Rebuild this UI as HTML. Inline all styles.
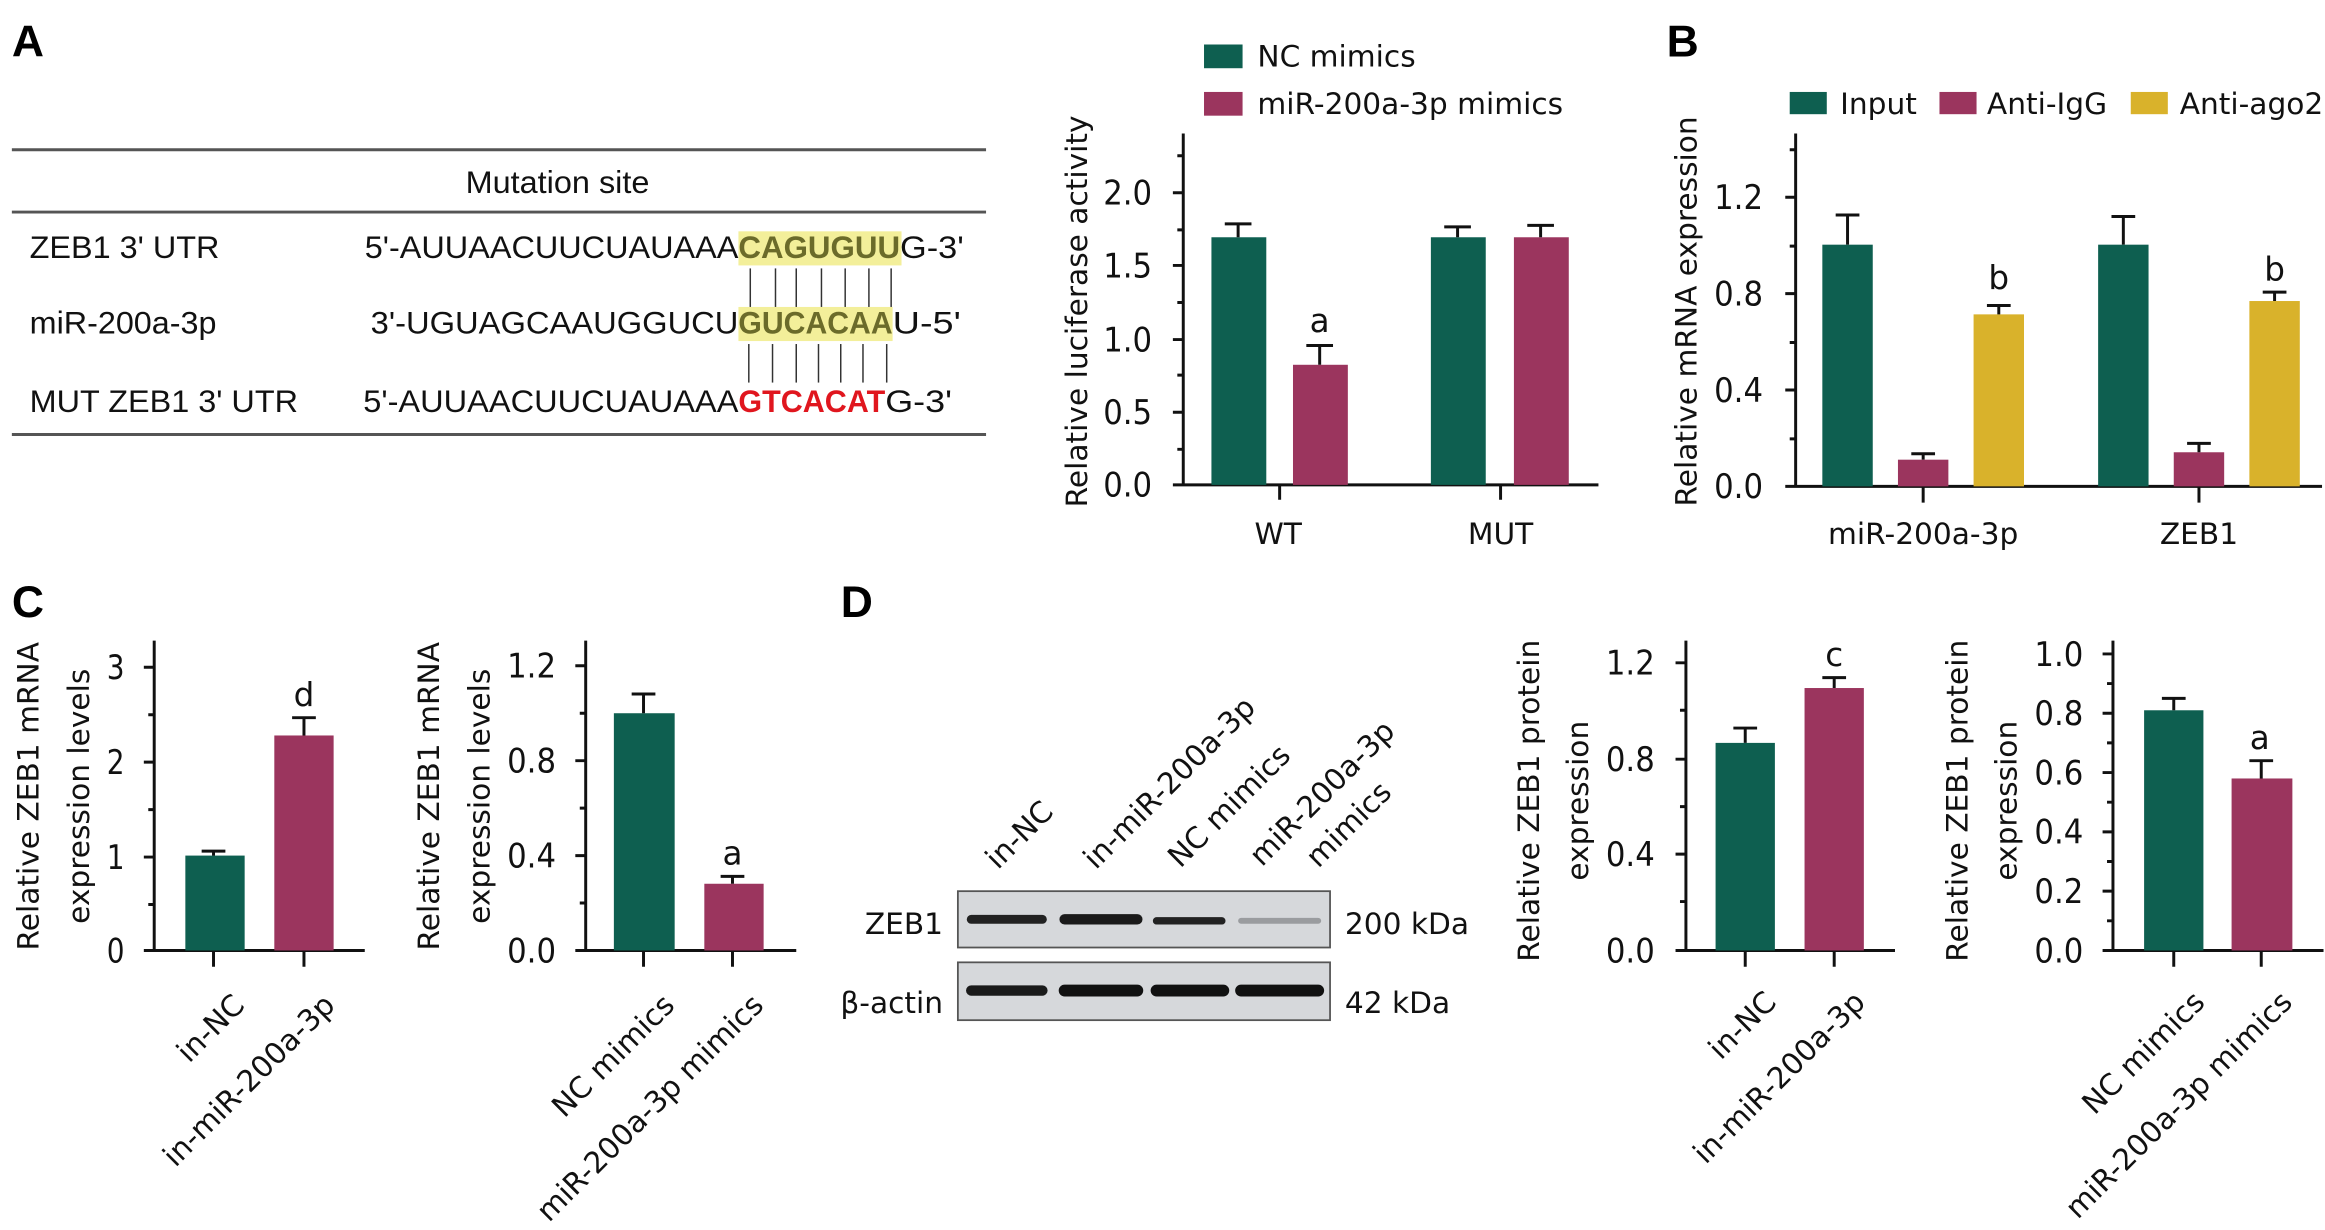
<!DOCTYPE html>
<html><head><meta charset="utf-8"><style>html,body{margin:0;padding:0;background:#fff}svg{display:block}</style></head>
<body>
<svg width="2325" height="1230" viewBox="0 0 1568 829.5" xmlns="http://www.w3.org/2000/svg" font-family="'DejaVu Sans', sans-serif">
<rect width="1568" height="830" fill="#fff"/>
<g font-family="'Liberation Sans',sans-serif" font-weight="bold" font-size="30" fill="#000">
<text x="8" y="38">A</text><text x="1124" y="38">B</text><text x="8" y="416">C</text><text x="567" y="416">D</text>
</g>
<!-- Table A -->
<g stroke="#555" stroke-width="2"><line x1="8" y1="101" x2="665" y2="101"/><line x1="8" y1="143" x2="665" y2="143"/><line x1="8" y1="293" x2="665" y2="293"/></g>
<rect x="498" y="156" width="110" height="23" fill="#f3ef9a"/>
<rect x="498" y="207" width="104" height="23" fill="#f3ef9a"/>
<g font-family="'Liberation Sans',sans-serif" font-size="21" fill="#111">
<text x="376" y="130" text-anchor="middle" textLength="124" lengthAdjust="spacingAndGlyphs">Mutation site</text>
<text x="20" y="174" textLength="128" lengthAdjust="spacingAndGlyphs">ZEB1 3' UTR</text>
<text x="20" y="225" textLength="126" lengthAdjust="spacingAndGlyphs">miR-200a-3p</text>
<text x="20" y="278" textLength="181" lengthAdjust="spacingAndGlyphs">MUT ZEB1 3' UTR</text>
<text x="246" y="174" textLength="252" lengthAdjust="spacingAndGlyphs">5'-AUUAACUUCUAUAAA</text>
<text x="498" y="174" textLength="109" lengthAdjust="spacingAndGlyphs" font-weight="bold" fill="#6b6b2a">CAGUGUU</text>
<text x="607" y="174" textLength="43" lengthAdjust="spacingAndGlyphs">G-3'</text>
<text x="250" y="225" textLength="248" lengthAdjust="spacingAndGlyphs">3'-UGUAGCAAUGGUCU</text>
<text x="498" y="225" textLength="104" lengthAdjust="spacingAndGlyphs" font-weight="bold" fill="#6b6b2a">GUCACAA</text>
<text x="602" y="225" textLength="46" lengthAdjust="spacingAndGlyphs">U-5'</text>
<text x="245" y="278" textLength="253" lengthAdjust="spacingAndGlyphs">5'-AUUAACUUCUAUAAA</text>
<text x="498" y="278" textLength="99" lengthAdjust="spacingAndGlyphs" font-weight="bold" fill="#e0161e">GTCACAT</text>
<text x="597" y="278" textLength="45" lengthAdjust="spacingAndGlyphs">G-3'</text>
</g>
<g stroke="#333" stroke-width="1">
<line x1="506" y1="181" x2="506" y2="207"/><line x1="523" y1="181" x2="523" y2="207"/><line x1="537" y1="181" x2="537" y2="207"/><line x1="554" y1="181" x2="554" y2="207"/><line x1="570" y1="181" x2="570" y2="207"/><line x1="586" y1="181" x2="586" y2="207"/><line x1="601" y1="181" x2="601" y2="207"/>
<line x1="505" y1="232" x2="505" y2="258"/><line x1="521" y1="232" x2="521" y2="258"/><line x1="537" y1="232" x2="537" y2="258"/><line x1="552" y1="232" x2="552" y2="258"/><line x1="567" y1="232" x2="567" y2="258"/><line x1="582" y1="232" x2="582" y2="258"/><line x1="598" y1="232" x2="598" y2="258"/>
</g>

<g font-size="20" fill="#111">
<!-- Chart A -->
<rect x="812" y="30" width="26" height="16" fill="#0e5f50"/><text x="848" y="45">NC mimics</text>
<rect x="812" y="62" width="26" height="16" fill="#9b355e"/><text x="848" y="77">miR-200a-3p mimics</text>
<g stroke="#111" stroke-width="2" fill="none">
<path d="M798 90V327H1078M791 327H798"/>
<path d="M791 130H798M791 179H798M791 229H798M791 278H798M863 327V337M1012 327V337"/>
<path d="M794 105H798M794 155H798M794 204H798M794 253H798M794 303H798"/>
</g>
<g text-anchor="end" font-size="23"><text x="777" y="138" textLength="33" lengthAdjust="spacingAndGlyphs">2.0</text><text x="777" y="187" textLength="33" lengthAdjust="spacingAndGlyphs">1.5</text><text x="777" y="237" textLength="33" lengthAdjust="spacingAndGlyphs">1.0</text><text x="777" y="286" textLength="33" lengthAdjust="spacingAndGlyphs">0.5</text><text x="777" y="335" textLength="33" lengthAdjust="spacingAndGlyphs">0.0</text></g>
<text transform="translate(733,210) rotate(-90)" text-anchor="middle">Relative luciferase activity</text>
<rect x="817" y="160" width="37" height="167" fill="#0e5f50"/><rect x="872" y="246" width="37" height="81" fill="#9b355e"/>
<rect x="965" y="160" width="37" height="167" fill="#0e5f50"/><rect x="1021" y="160" width="37" height="167" fill="#9b355e"/>
<g stroke-width="2" fill="none" stroke="#111">
<path d="M835 160V151M826 151H844"/><path d="M890 246V233M881 233H899"/>
<path d="M983 160V153M974 153H992"/><path d="M1039 160V152M1030 152H1048"/>
</g>
<text x="890" y="224" text-anchor="middle" font-size="22">a</text>
<text x="862" y="367" text-anchor="middle">WT</text><text x="1012" y="367" text-anchor="middle">MUT</text>

<!-- Chart B -->
<rect x="1207" y="62" width="25" height="15" fill="#0e5f50"/><text x="1241" y="77">Input</text>
<rect x="1308" y="62" width="25" height="15" fill="#9b355e"/><text x="1340" y="77">Anti-IgG</text>
<rect x="1437" y="62" width="25" height="15" fill="#d9b22b"/><text x="1470" y="77">Anti-ago2</text>
<g stroke="#111" stroke-width="2" fill="none">
<path d="M1211 90V328H1566M1204 328H1211"/>
<path d="M1204 133H1211M1204 198H1211M1204 263H1211M1297 328V339M1483 328V339"/>
<path d="M1207 101H1211M1207 166H1211M1207 231H1211M1207 296H1211"/>
</g>
<g text-anchor="end" font-size="23"><text x="1189" y="141" textLength="33" lengthAdjust="spacingAndGlyphs">1.2</text><text x="1189" y="206" textLength="33" lengthAdjust="spacingAndGlyphs">0.8</text><text x="1189" y="271" textLength="33" lengthAdjust="spacingAndGlyphs">0.4</text><text x="1189" y="336" textLength="33" lengthAdjust="spacingAndGlyphs">0.0</text></g>
<text transform="translate(1144,210) rotate(-90)" text-anchor="middle">Relative mRNA expression</text>
<rect x="1229" y="165" width="34" height="163" fill="#0e5f50"/><rect x="1280" y="310" width="34" height="18" fill="#9b355e"/><rect x="1331" y="212" width="34" height="116" fill="#d9b22b"/>
<rect x="1415" y="165" width="34" height="163" fill="#0e5f50"/><rect x="1466" y="305" width="34" height="23" fill="#9b355e"/><rect x="1517" y="203" width="34" height="125" fill="#d9b22b"/>
<g stroke-width="2" fill="none" stroke="#111">
<path d="M1246 165V145M1238 145H1254"/><path d="M1297 310V306M1289 306H1305"/><path d="M1348 212V206M1340 206H1356"/>
<path d="M1432 165V146M1424 146H1440"/><path d="M1483 305V299M1475 299H1491"/><path d="M1534 203V197M1526 197H1542"/>
</g>
<text x="1348" y="195" text-anchor="middle" font-size="22">b</text><text x="1534" y="189" text-anchor="middle" font-size="22">b</text>
<text x="1297" y="367" text-anchor="middle">miR-200a-3p</text><text x="1483" y="367" text-anchor="middle">ZEB1</text>

<!-- Chart C1 -->
<g stroke="#111" stroke-width="2" fill="none">
<path d="M104 432V641H246M97 641H104"/><path d="M97 450H104M97 514H104M97 578H104M144 641V652M205 641V652"/>
<path d="M100 482H104M100 546H104M100 610H104"/>
</g>
<g text-anchor="end" font-size="23"><text x="84" y="458" textLength="12" lengthAdjust="spacingAndGlyphs">3</text><text x="84" y="522" textLength="12" lengthAdjust="spacingAndGlyphs">2</text><text x="84" y="586" textLength="12" lengthAdjust="spacingAndGlyphs">1</text><text x="84" y="649" textLength="12" lengthAdjust="spacingAndGlyphs">0</text></g>
<text transform="translate(26,537) rotate(-90)" text-anchor="middle">Relative ZEB1 mRNA</text>
<text transform="translate(60,537) rotate(-90)" text-anchor="middle">expression levels</text>
<rect x="125" y="577" width="40" height="64" fill="#0e5f50"/><rect x="185" y="496" width="40" height="145" fill="#9b355e"/>
<g stroke-width="2" fill="none" stroke="#111"><path d="M144 577V574M136 574H152"/><path d="M205 496V484M197 484H213"/></g>
<text x="205" y="476" text-anchor="middle" font-size="22">d</text>
<text transform="translate(166,679) rotate(-45)" text-anchor="end">in-NC</text>
<text transform="translate(227,679) rotate(-45)" text-anchor="end">in-miR-200a-3p</text>

<!-- Chart C2 -->
<g stroke="#111" stroke-width="2" fill="none">
<path d="M395 432V641H537M388 641H395"/><path d="M388 449H395M388 513H395M388 577H395M434 641V652M494 641V652"/>
<path d="M391 481H395M391 545H395M391 609H395"/>
</g>
<g text-anchor="end" font-size="23"><text x="375" y="457" textLength="33" lengthAdjust="spacingAndGlyphs">1.2</text><text x="375" y="521" textLength="33" lengthAdjust="spacingAndGlyphs">0.8</text><text x="375" y="585" textLength="33" lengthAdjust="spacingAndGlyphs">0.4</text><text x="375" y="649" textLength="33" lengthAdjust="spacingAndGlyphs">0.0</text></g>
<text transform="translate(296,537) rotate(-90)" text-anchor="middle">Relative ZEB1 mRNA</text>
<text transform="translate(330,537) rotate(-90)" text-anchor="middle">expression levels</text>
<rect x="414" y="481" width="41" height="160" fill="#0e5f50"/><rect x="475" y="596" width="40" height="45" fill="#9b355e"/>
<g stroke-width="2" fill="none" stroke="#111"><path d="M434 481V468M426 468H442"/><path d="M494 596V591M486 591H502"/></g>
<text x="494" y="583" text-anchor="middle" font-size="22">a</text>
<text transform="translate(456,679) rotate(-45)" text-anchor="end">NC mimics</text>
<text transform="translate(516,679) rotate(-45)" text-anchor="end">miR-200a-3p mimics</text>

<!-- Blot -->
<rect x="646" y="601" width="251" height="38" fill="#d6d8db" stroke="#555" stroke-width="1.2"/>
<rect x="646" y="649" width="251" height="39" fill="#d6d8db" stroke="#555" stroke-width="1.2"/>
<g stroke-linecap="round">
<line x1="655" y1="620" x2="703" y2="620" stroke="#222" stroke-width="6"/>
<line x1="718" y1="620" x2="767" y2="620" stroke="#1a1a1a" stroke-width="7"/>
<line x1="780" y1="621" x2="824" y2="621" stroke="#222" stroke-width="5"/>
<line x1="837" y1="621" x2="889" y2="621" stroke="#9a9c9f" stroke-width="4"/>
<line x1="655" y1="668" x2="703" y2="668" stroke="#1a1a1a" stroke-width="7"/>
<line x1="718" y1="668" x2="767" y2="668" stroke="#111" stroke-width="8"/>
<line x1="780" y1="668" x2="825" y2="668" stroke="#111" stroke-width="8"/>
<line x1="837" y1="668" x2="889" y2="668" stroke="#111" stroke-width="8"/>
</g>
<text x="636" y="630" text-anchor="end">ZEB1</text><text x="636" y="683" text-anchor="end">β-actin</text>
<text x="907" y="630">200 kDa</text><text x="907" y="683">42 kDa</text>
<text transform="translate(673,587) rotate(-45)">in-NC</text>
<text transform="translate(739,587) rotate(-45)">in-miR-200a-3p</text>
<text transform="translate(796,586) rotate(-45)">NC mimics</text>
<text transform="translate(851,585) rotate(-45)">miR-200a-3p</text>
<text transform="translate(889,586) rotate(-45)">mimics</text>

<!-- Chart D1 -->
<g stroke="#111" stroke-width="2" fill="none">
<path d="M1137 432V641H1278M1130 641H1137"/><path d="M1130 447H1137M1130 512H1137M1130 576H1137M1177 641V652M1237 641V652"/>
<path d="M1133 479H1137M1133 544H1137M1133 608H1137"/>
</g>
<g text-anchor="end" font-size="23"><text x="1116" y="455" textLength="33" lengthAdjust="spacingAndGlyphs">1.2</text><text x="1116" y="520" textLength="33" lengthAdjust="spacingAndGlyphs">0.8</text><text x="1116" y="584" textLength="33" lengthAdjust="spacingAndGlyphs">0.4</text><text x="1116" y="649" textLength="33" lengthAdjust="spacingAndGlyphs">0.0</text></g>
<text transform="translate(1038,540) rotate(-90)" text-anchor="middle">Relative ZEB1 protein</text>
<text transform="translate(1071,540) rotate(-90)" text-anchor="middle">expression</text>
<rect x="1157" y="501" width="40" height="140" fill="#0e5f50"/><rect x="1217" y="464" width="40" height="177" fill="#9b355e"/>
<g stroke-width="2" fill="none" stroke="#111"><path d="M1177 501V491M1169 491H1185"/><path d="M1237 464V457M1229 457H1245"/></g>
<text x="1237" y="449" text-anchor="middle" font-size="22">c</text>
<text transform="translate(1199,677) rotate(-45)" text-anchor="end">in-NC</text>
<text transform="translate(1259,677) rotate(-45)" text-anchor="end">in-miR-200a-3p</text>

<!-- Chart D2 -->
<g stroke="#111" stroke-width="2" fill="none">
<path d="M1425 432V641H1567M1418 641H1425"/><path d="M1418 441H1425M1418 481H1425M1418 521H1425M1418 561H1425M1418 601H1425M1466 641V652M1525 641V652"/>
<path d="M1421 461H1425M1421 501H1425M1421 541H1425M1421 581H1425M1421 621H1425"/>
</g>
<g text-anchor="end" font-size="23"><text x="1405" y="449" textLength="33" lengthAdjust="spacingAndGlyphs">1.0</text><text x="1405" y="489" textLength="33" lengthAdjust="spacingAndGlyphs">0.8</text><text x="1405" y="529" textLength="33" lengthAdjust="spacingAndGlyphs">0.6</text><text x="1405" y="569" textLength="33" lengthAdjust="spacingAndGlyphs">0.4</text><text x="1405" y="609" textLength="33" lengthAdjust="spacingAndGlyphs">0.2</text><text x="1405" y="649" textLength="33" lengthAdjust="spacingAndGlyphs">0.0</text></g>
<text transform="translate(1327,540) rotate(-90)" text-anchor="middle">Relative ZEB1 protein</text>
<text transform="translate(1360,540) rotate(-90)" text-anchor="middle">expression</text>
<rect x="1446" y="479" width="40" height="162" fill="#0e5f50"/><rect x="1505" y="525" width="41" height="116" fill="#9b355e"/>
<g stroke-width="2" fill="none" stroke="#111"><path d="M1466 479V471M1458 471H1474"/><path d="M1525 525V513M1517 513H1533"/></g>
<text x="1524" y="505" text-anchor="middle" font-size="22">a</text>
<text transform="translate(1488,677) rotate(-45)" text-anchor="end">NC mimics</text>
<text transform="translate(1547,677) rotate(-45)" text-anchor="end">miR-200a-3p mimics</text>
</g>
</svg>
</body></html>
